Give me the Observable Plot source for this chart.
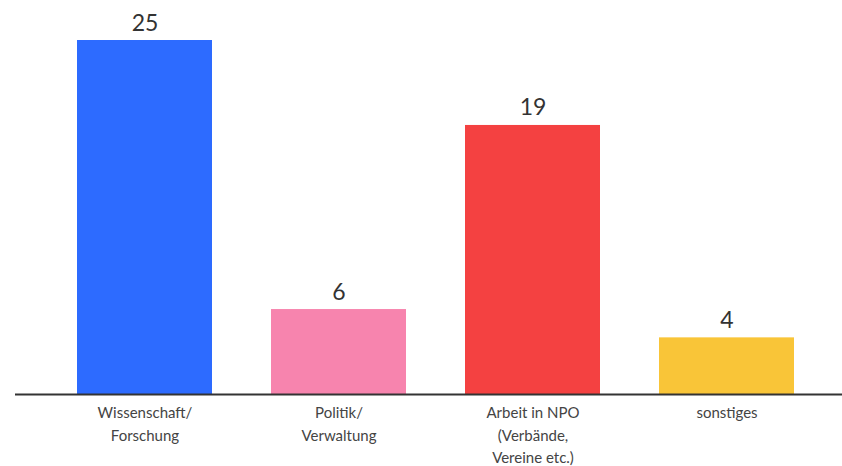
<!DOCTYPE html>
<html>
<head>
<meta charset="utf-8">
<script src="https://cdn.jsdelivr.net/npm/d3@7"></script>
<script src="https://cdn.jsdelivr.net/npm/@observablehq/plot@0.6"></script>
<style>
  html, body { margin: 0; padding: 0; background: #fff; }
</style>
</head>
<body>
<div id="chart"></div>
<script>
const categories = ["Wissenschaft/\nForschung", "Politik/\nVerwaltung", "Arbeit in NPO\n(Verbände,\nVereine etc.)", "sonstiges"];
const values = [25, 6, 19, 4];
const colors = ["#2D6BFF", "#F784AE", "#F44141", "#F9C538"];

const data = categories.map((c, i) => ({category: c, value: values[i], color: colors[i]}));

const chart = Plot.plot({
  width: 842,
  height: 466,
  marginTop: 40,
  marginBottom: 72,
  marginLeft: 15,
  marginRight: 0,
  style: {fontFamily: "Lato, 'Open Sans', sans-serif", background: "#fff"},
  x: {domain: categories, range: [47, 823], paddingInner: 0.305, paddingOuter: 0.15},
  y: {domain: [0, 25], axis: null},
  marks: [
    Plot.barY(data, {x: "category", y: "value", fill: "color"}),
    Plot.ruleY([0], {stroke: "#333", strokeWidth: 2}),
    Plot.text(data, {x: "category", y: "value", text: d => String(d.value), lineAnchor: "bottom", dy: -10, fontSize: 23, fill: "#333"}),
    Plot.axisX({tickSize: 0, tickPadding: 8, fontSize: 15, lineHeight: 1.5, lineAnchor: "top", fill: "#444", label: null})
  ]
});
document.getElementById("chart").appendChild(chart);
</script>
</body>
</html>
